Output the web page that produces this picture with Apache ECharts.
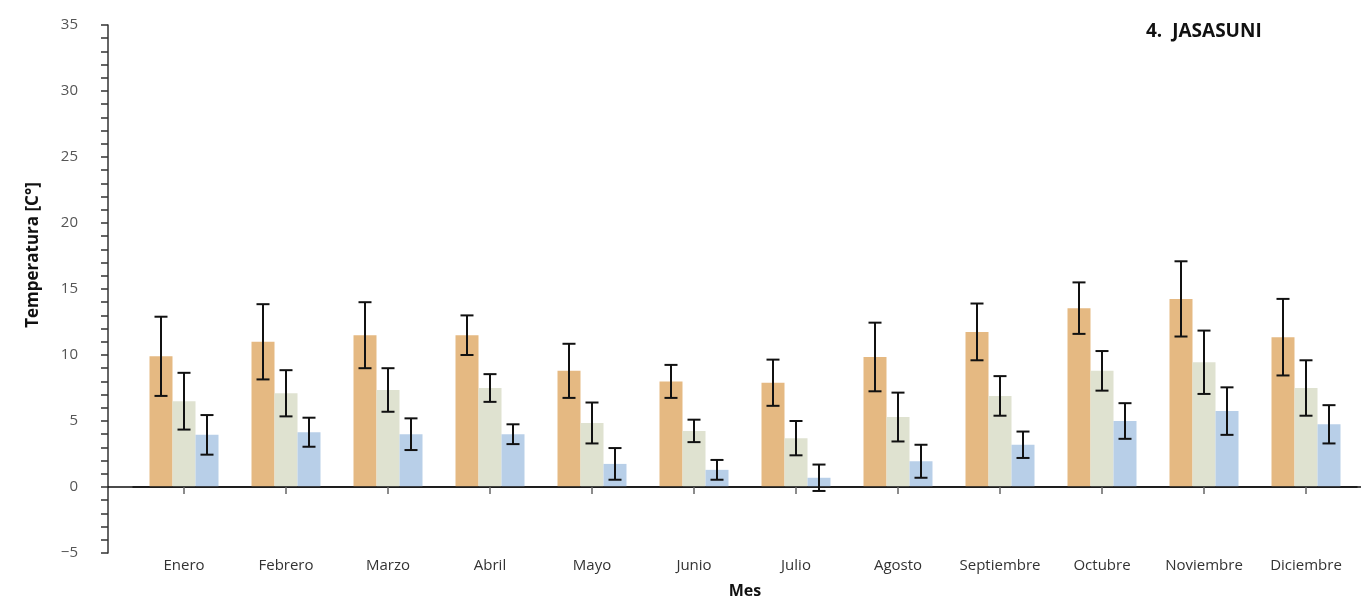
<!DOCTYPE html>
<html>
<head>
<meta charset="utf-8">
<script src="https://cdn.jsdelivr.net/npm/echarts@6/dist/echarts.min.js"></script>
<style>html,body{margin:0;padding:0;background:#fff}#c{width:1361px;height:599px}</style>
</head>
<body>
<div id="c"></div>
<script>
const months = ['Enero','Febrero','Marzo','Abril','Mayo','Junio','Julio','Agosto','Septiembre','Octubre','Noviembre','Diciembre'];
const yTicks = [-5, 0, 5, 10, 15, 20, 25, 30, 35];
// series means
const maxTemp  = [9.9, 11.0, 11.5, 11.5, 8.8, 8.0, 7.9, 9.85, 11.75, 13.55, 14.25, 11.35];
const meanTemp = [6.5, 7.1, 7.35, 7.5, 4.85, 4.25, 3.7, 5.3, 6.9, 8.8, 9.45, 7.5];
const minTemp  = [3.95, 4.15, 4.0, 4.0, 1.75, 1.3, 0.7, 1.95, 3.2, 5.0, 5.75, 4.75];
// error bar half-widths
const maxErr  = [3.0, 2.85, 2.5, 1.5, 2.05, 1.25, 1.75, 2.6, 2.15, 1.95, 2.85, 2.9];
const meanErr = [2.15, 1.75, 1.65, 1.05, 1.55, 0.85, 1.3, 1.85, 1.5, 1.5, 2.4, 2.1];
const minErr  = [1.5, 1.1, 1.2, 0.75, 1.2, 0.75, 1.0, 1.25, 1.0, 1.35, 1.8, 1.45];

const colors = ['#E5B982', '#DFE2D0', '#B8CFE8'];
const BAR_W = 23;

function errData(means, errs) {
  return means.map((m, i) => [i, m - errs[i], m + errs[i]]);
}
function errSeries(means, errs, idx) {
  return {
    type: 'custom',
    xAxisIndex: 0, yAxisIndex: 1,
    z: 10,
    data: errData(means, errs),
    encode: { x: 0, y: [1, 2] },
    renderItem: function (params, api) {
      const off = (idx - 1) * BAR_W;
      const lo = api.coord([api.value(0), api.value(1)]);
      const hi = api.coord([api.value(0), api.value(2)]);
      const x = lo[0] + off;
      const cap = 6.5;
      const style = { stroke: '#111', lineWidth: 2 };
      return {
        type: 'group',
        children: [
          { type: 'line', shape: { x1: x, y1: hi[1], x2: x, y2: lo[1] }, style: style },
          { type: 'line', shape: { x1: x - cap, y1: hi[1], x2: x + cap, y2: hi[1] }, style: style },
          { type: 'line', shape: { x1: x - cap, y1: lo[1], x2: x + cap, y2: lo[1] }, style: style }
        ]
      };
    }
  };
}
function barSeries(vals, idx) {
  return {
    type: 'bar', xAxisIndex: 0, yAxisIndex: 1,
    data: vals, barWidth: BAR_W, barGap: '0%',
    itemStyle: { color: colors[idx] },
    emphasis: { disabled: true }
  };
}

const chart = echarts.init(document.getElementById('c'));
const font = 'Open Sans, Lato, sans-serif';
chart.setOption({
  animation: false,
  textStyle: { fontFamily: font },
  title: {
    text: '4.  JASASUNI', left: 1141, top: 17,
    textStyle: { fontSize: 19, fontWeight: 'bold', color: '#111', fontFamily: font }
  },
  grid: [
    { left: 133, right: 4, top: 25, bottom: 46, outerBoundsMode: 'none', containLabel: false },
    { left: 108, right: 0, top: 25, bottom: 46, outerBoundsMode: 'none', containLabel: false }
  ],
  xAxis: [
    {
      type: 'category', gridIndex: 0, data: months, z: 5,
      axisLine: { onZero: true, lineStyle: { color: '#111', width: 1.5 } },
      axisTick: { show: true, interval: 0, inside: true, alignWithLabel: true, length: -7,
        lineStyle: { color: '#666', width: 1.5 } },
      axisLabel: { interval: 0, margin: 5, fontSize: 15, color: '#333', fontFamily: font },
      name: 'Mes', nameLocation: 'middle', nameGap: 30,
      nameTextStyle: { fontSize: 16, fontWeight: 'bold', color: '#111', fontFamily: font }
    },
    {
      type: 'value', gridIndex: 1, min: 0, max: 1,
      axisLine: { show: true, onZero: true, lineStyle: { color: '#111', width: 1.5 } },
      axisTick: { show: false }, axisLabel: { show: false }, splitLine: { show: false }
    }
  ],
  yAxis: [
    {
      type: 'value', gridIndex: 1, min: yTicks[0], max: yTicks[yTicks.length - 1], interval: 5,
      axisLine: { show: true, lineStyle: { color: '#333', width: 1.5 } },
      axisTick: { show: true, inside: false, length: 7, lineStyle: { color: '#333', width: 1.5 } },
      minorTick: { show: true, splitNumber: 5, length: 7, lineStyle: { color: '#333', width: 1.5 } },
      axisLabel: { margin: 30, fontSize: 15, color: '#555', fontFamily: font,
        formatter: v => (v < 0 ? '\u2212' + Math.abs(v) : String(v)) },
      splitLine: { show: false }
    },
    {
      type: 'value', gridIndex: 0, min: yTicks[0], max: yTicks[yTicks.length - 1], interval: 5,
      show: false, splitLine: { show: false }
    }
  ],
  graphic: [{
    type: 'text', x: 33, y: 255, rotation: Math.PI / 2,
    style: { text: 'Temperatura [C\u00B0]', fill: '#111', font: 'bold 17px ' + font,
      align: 'center', verticalAlign: 'middle' }
  }],
  series: [
    barSeries(maxTemp, 0), barSeries(meanTemp, 1), barSeries(minTemp, 2),
    errSeries(maxTemp, maxErr, 0), errSeries(meanTemp, meanErr, 1), errSeries(minTemp, minErr, 2)
  ]
});
</script>
</body>
</html>
